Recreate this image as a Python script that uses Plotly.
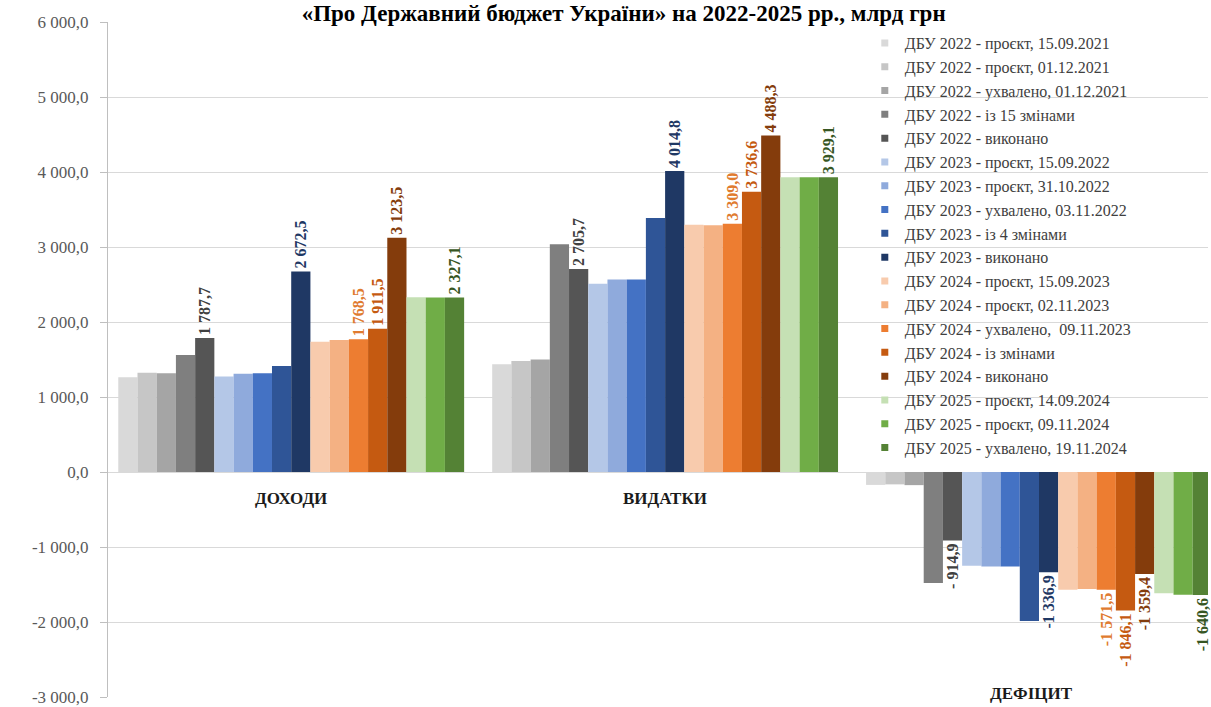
import plotly.graph_objects as go

categories = ["ДОХОДИ", "ВИДАТКИ", "ДЕФІЦИТ"]

series_names = [
    "ДБУ 2022 - проєкт, 15.09.2021",
    "ДБУ 2022 - проєкт, 01.12.2021",
    "ДБУ 2022 - ухвалено, 01.12.2021",
    "ДБУ 2022 - із 15 змінами",
    "ДБУ 2022 - виконано",
    "ДБУ 2023 - проєкт, 15.09.2022",
    "ДБУ 2023 - проєкт, 31.10.2022",
    "ДБУ 2023 - ухвалено, 03.11.2022",
    "ДБУ 2023 - із 4 змінами",
    "ДБУ 2023 - виконано",
    "ДБУ 2024 - проєкт, 15.09.2023",
    "ДБУ 2024 - проєкт, 02.11.2023",
    "ДБУ 2024 - ухвалено,  09.11.2023",
    "ДБУ 2024 - із змінами",
    "ДБУ 2024 - виконано",
    "ДБУ 2025 - проєкт, 14.09.2024",
    "ДБУ 2025 - проєкт, 09.11.2024",
    "ДБУ 2025 - ухвалено, 19.11.2024",
]

# values per category: Доходи, Видатки, Дефіцит
revenues = [1264, 1322, 1318, 1560, 1787.7,
            1273, 1309, 1318, 1412, 2672.5,
            1738, 1760, 1768.5, 1911.5, 3123.5,
            2329, 2327, 2327.1]
expenditures = [1436, 1481, 1499, 3038, 2705.7,
                2510, 2568, 2568, 3387, 4014.8,
                3298, 3290, 3309.0, 3736.6, 4488.3,
                3930, 3930, 3929.1]
deficit = [-172, -165, -175, -1480, -914.9,
           -1250, -1260, -1260, -1985, -1336.9,
           -1570, -1560, -1571.5, -1846.1, -1359.4,
           -1615, -1635, -1640.6]

labelled = [False, False, False, False, True,
            False, False, False, False, True,
            False, False, True, True, True,
            False, False, True]

bar_colors = ["#D9D9D9", "#C6C6C6", "#A5A5A5", "#7F7F7F", "#555555",
              "#B4C7E7", "#8FAADC", "#4472C4", "#2F5597", "#1F3864",
              "#F8CBAD", "#F4B183", "#ED7D31", "#C55A11", "#843C0C",
              "#C5E0B4", "#70AD47", "#548235"]
label_colors = ["#404040"] * 5 + ["#1F3864"] * 5 + \
               ["#843C0C", "#843C0C", "#E07B30", "#C55A11", "#843C0C"] + ["#375623"] * 3

y_ticks = [-3000, -2000, -1000, 0, 1000, 2000, 3000, 4000, 5000, 6000]


def fmt(v):
    s = f"{abs(v):,.1f}".replace(",", " ").replace(".", ",")
    if v < 0:
        return ("- " if abs(v) < 1000 else "-") + s
    return s


SERIF = "Liberation Serif, Times New Roman, serif"

fig = go.Figure()
for i, name in enumerate(series_names):
    vals = [revenues[i], expenditures[i], deficit[i]]
    fig.add_trace(go.Bar(
        x=categories, y=vals, name=name,
        marker=dict(color=bar_colors[i], line=dict(width=0)),
        text=[fmt(v) for v in vals] if labelled[i] else None,
        textposition="outside" if labelled[i] else "none",
        textangle=-90,
        constraintext="none",
        cliponaxis=False,
        textfont=dict(family=SERIF, size=16, color=label_colors[i], weight="bold"),
        showlegend=False,
    ))

# legend entries with small square markers
for i, name in enumerate(series_names):
    fig.add_trace(go.Scatter(
        x=[None], y=[None], mode="markers", name=name,
        marker=dict(symbol="square", size=7, color=bar_colors[i]),
        showlegend=True,
    ))

annotations = [
    dict(x=categories[0], y=-350, text="<b>ДОХОДИ</b>", showarrow=False,
         xref="x", yref="y", font=dict(family=SERIF, size=17, color="#1a1a1a")),
    dict(x=categories[1], y=-350, text="<b>ВИДАТКИ</b>", showarrow=False,
         xref="x", yref="y", font=dict(family=SERIF, size=17, color="#1a1a1a")),
    dict(x=1.98, y=-2950, text="<b>ДЕФІЦИТ</b>", showarrow=False,
         xref="x", yref="y", font=dict(family=SERIF, size=17, color="#1a1a1a")),
]

fig.update_layout(
    width=1211, height=707,
    margin=dict(l=108, r=3, t=22, b=10, autoexpand=False),
    paper_bgcolor="white", plot_bgcolor="white",
    barmode="group", bargap=0.075, bargroupgap=0,
    title=dict(text="<b>«Про Державний бюджет України» на 2022-2025 рр., млрд грн</b>",
               x=0.515, xanchor="center", y=0.982, yanchor="middle",
               font=dict(family=SERIF, size=23, color="#000000")),
    legend=dict(x=0.688, y=0.994, xanchor="left", yanchor="top",
                bgcolor="rgba(0,0,0,0)", traceorder="normal",
                font=dict(family=SERIF, size=16, color="#404040"),
                itemwidth=30),
    annotations=annotations,
    showlegend=True,
)
fig.update_xaxes(range=[-0.49, 2.452], showticklabels=False, showgrid=False,
                 zeroline=False, showline=False, ticks="", automargin=False)
fig.update_yaxes(range=[-3000, 6000], tickvals=y_ticks,
                 ticktext=[fmt(v) if v != 0 else "0,0" for v in y_ticks],
                 showgrid=True, gridcolor="#D9D9D9", gridwidth=1,
                 zeroline=True, zerolinecolor="#D9D9D9", zerolinewidth=1,
                 showline=True, linecolor="#BFBFBF", linewidth=1,
                 ticks="outside", ticklen=7, tickcolor="#BFBFBF",
                 ticklabelstandoff=8, automargin=False,
                 tickfont=dict(family=SERIF, size=17, color="#595959"))

fig.write_html("out.html",
               config={"displayModeBar": False},
               post_script="document.body.style.margin='0';"
                           "document.body.style.overflow='hidden';")
